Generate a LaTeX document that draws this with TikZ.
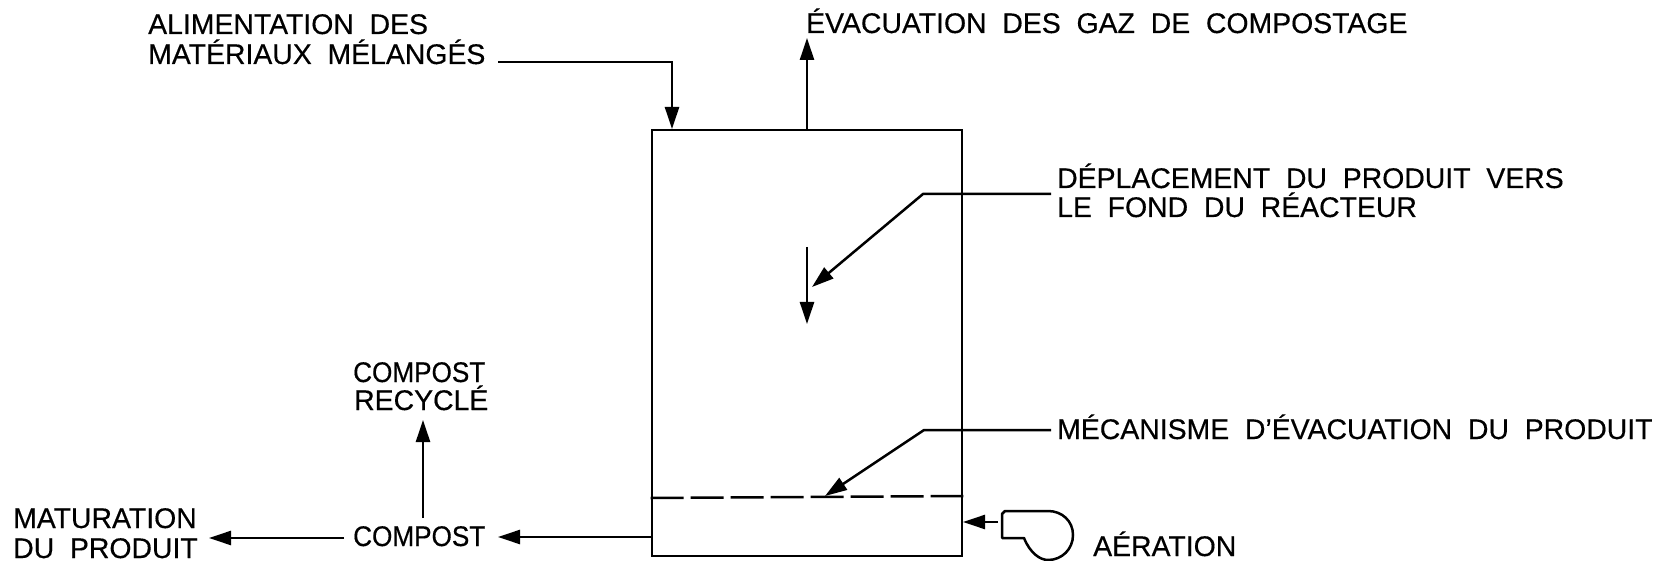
\documentclass[tikz,border=0pt]{standalone}
\usepackage{fontspec}
\setmainfont[WordSpace=2,FakeBold=0.4]{Liberation Sans}
\newfontfamily\narrowlabel[WordSpace=2,FakeBold=0.4,FakeStretch=0.92]{Liberation Sans}
\usetikzlibrary{arrows.meta}
\tikzset{
  lbl/.style={anchor=base west,inner sep=0pt,font=\fontsize{28.4}{28.4}\selectfont},
  lbs/.style={lbl,font=\narrowlabel\fontsize{28.4}{28.4}\selectfont},
  ln/.style={line width=2.5pt,line join=miter},
  arr/.style={ln,-{Stealth[length=22pt,width=14pt,inset=0pt]}},
  thick box/.style={draw,line width=2.8pt,inner sep=0pt,minimum width=310pt,minimum height=426pt}
}
\begin{document}
\begin{tikzpicture}[x=1pt,y=-1pt]
\useasboundingbox[fill=white] (0,0) rectangle (1665,561);
% reactor
\node[thick box] (reactor) at (807,343) {};
\coordinate (dashL) at (reactor.west |- 0,498);
\coordinate (dashR) at (reactor.east |- 0,496);
\draw[ln,dash pattern=on 33pt off 7pt] (dashL) -- (dashR);
% labels
\node[lbl] (alim1) at (148,34) {ALIMENTATION DES};
\node[lbl] (alim2) at (148,64) {MATÉRIAUX MÉLANGÉS};
\node[lbl] (evac) at (806,33) {ÉVACUATION DES GAZ DE COMPOSTAGE};
\node[lbl] (dep1) at (1057,188) {DÉPLACEMENT DU PRODUIT VERS};
\node[lbl] (dep2) at (1057,217) {LE FOND DU RÉACTEUR};
\node[lbl] (meca) at (1057,439) {MÉCANISME D'ÉVACUATION DU PRODUIT};
\node[lbs] (rec1) at (353,382) {COMPOST};
\node[lbl] (rec2) at (354,410) {RECYCLÉ};
\node[lbs] (comp) at (353,546) {COMPOST};
\node[lbl] (mat1) at (13,528) {MATURATION};
\node[lbl] (mat2) at (13,558) {DU PRODUIT};
\node[lbl] (aer) at (1093,556) {AÉRATION};
% connector ends
\coordinate (feedA) at (498,62);
\coordinate (feedB) at (672,62);
\coordinate (feedC) at (672,129);
\coordinate (gasA) at (807,130);
\coordinate (gasB) at (807,38);
\coordinate (depA) at (1051,194);
\coordinate (depB) at (923,194);
\coordinate (depC) at (812,287);
\coordinate (downA) at (807,247);
\coordinate (downB) at (807,324);
\coordinate (mecA) at (1051,430);
\coordinate (mecB) at (924,430);
\coordinate (mecC) at (825,496);
\coordinate (outA) at (652,537);
\coordinate (outB) at (498,537);
\coordinate (matA) at (344,538);
\coordinate (matB) at (209,538);
\coordinate (recA) at (423,518);
\coordinate (recB) at (423,420);
\coordinate (airA) at (998,522);
\coordinate (airB) at (963,522);
% connectors
\draw[arr] (feedA) -- (feedB) -- (feedC);
\draw[arr] (gasA) -- (gasB);
\draw[arr] (depA) -- (depB) -- (depC);
\draw[arr] (downA) -- (downB);
\draw[arr] (mecA) -- (mecB) -- (mecC);
\draw[arr] (outA) -- (outB);
\draw[arr] (matA) -- (matB);
\draw[arr] (recA) -- (recB);
\draw[arr] (airA) -- (airB);
% blower
\draw[line width=2.5pt,line join=round] (1002,514) -- (1002,538) -- (1024,538)
  .. controls (1030,553) and (1040,560) .. (1048,560)
  .. controls (1062,560) and (1073,549) .. (1073,535)
  .. controls (1073,521) and (1062,511) .. (1048,511)
  -- (1005,511) -- cycle;
\end{tikzpicture}
\end{document}
